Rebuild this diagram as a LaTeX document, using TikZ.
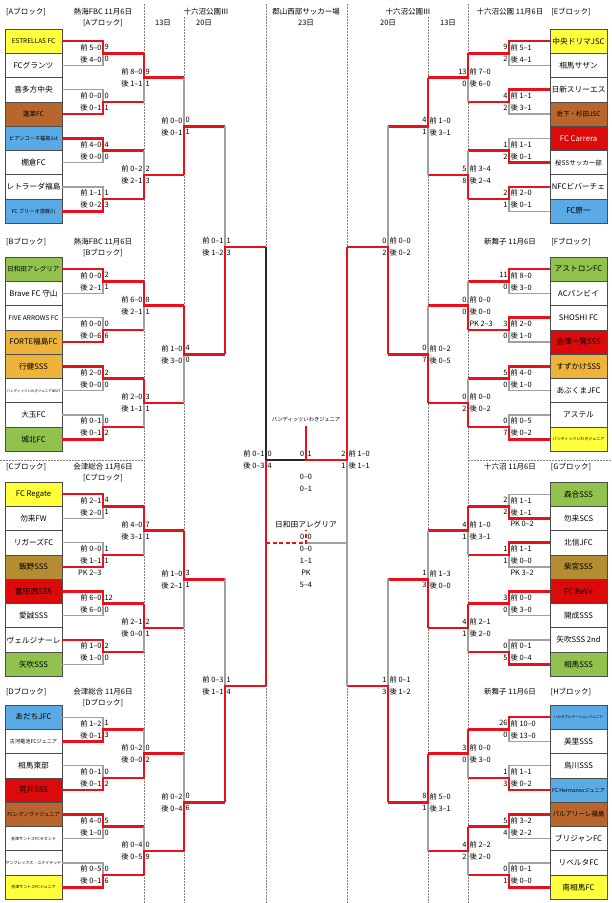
\documentclass[tikz,border=0pt]{standalone}
\usepackage{fontspec}
\setmainfont{Noto Sans CJK JP}
\usepackage{xcolor}
\usetikzlibrary{calc}

\definecolor{cyel}{HTML}{FFFF3C}
\definecolor{cgrn}{HTML}{92C24E}
\definecolor{cbrn}{HTML}{B9662E}
\definecolor{cblu}{HTML}{5AAAE6}
\definecolor{cred}{HTML}{DC0A0A}
\definecolor{cgld}{HTML}{EEB43A}
\definecolor{colv}{HTML}{B48C32}
\definecolor{lred}{HTML}{E8101A}
\definecolor{lgry}{HTML}{A0A0A0}

\tikzset{
  team/.style={draw=black!70, line width=0.8pt, minimum width=57pt, minimum height=24.3pt, inner sep=0pt},
  fbig/.style={font=\fontsize{7.7}{8}\selectfont},
  fmid/.style={font=\fontsize{6.5}{7}\selectfont},
  fsml/.style={font=\fontsize{5.2}{6}\selectfont},
  ftny/.style={font=\fontsize{4}{5}\selectfont},
  fmin/.style={font=\fontsize{3.5}{4}\selectfont},
  fwht/.style={fbig, text=white},
  res/.style={font=\fontsize{7.4}{8}\selectfont, inner sep=0pt},
  hdr/.style={font=\fontsize{7.5}{8}\selectfont, inner sep=0pt},
  bline/.style={lgry, line width=1.3pt},
  wline/.style={lred, line width=2.6pt},
  kline/.style={black!85, line width=1.1pt},
  dline/.style={gray, line width=0.6pt, dash pattern=on 1.5pt off 1.5pt},
}

% one match: name, x, top, bottom, winner, y out, x next
\newcommand{\bmatch}[7]{%
  \coordinate (#1t) at (#2,0 |- #3);
  \coordinate (#1b) at (#2,0 |- #4);
  \coordinate (#1w) at (#2,0 |- #5);
  \coordinate (#1o) at (#2,{#6});
  \coordinate (#1n) at (#7,{#6});
  \draw[bline] (#3) -- (#1t) -- (#1b) -- (#4);
  \draw[wline] (#5) -- (#1w) -- (#1o) -- (#1n);
}
% one block: letter, top, winners of the seven matches
\newcommand{\bracket}[9]{%
  \bmatch{#1m0}{\xa}{#10}{#11}{#1#3}{#2+1*\hh}{\xb}
  \bmatch{#1m1}{\xa}{#12}{#13}{#1#4}{#2+3*\hh}{\xb}
  \bmatch{#1m2}{\xa}{#14}{#15}{#1#5}{#2+5*\hh}{\xb}
  \bmatch{#1m3}{\xa}{#16}{#17}{#1#6}{#2+7*\hh}{\xb}
  \bmatch{#1m4}{\xb}{#1m0n}{#1m1n}{#1m#7n}{#2+2*\hh}{\xc}
  \bmatch{#1m5}{\xb}{#1m2n}{#1m3n}{#1m#8n}{#2+6*\hh}{\xc}
  \bmatch{#1m6}{\xc}{#1m4n}{#1m5n}{#1m#9n}{#2+4*\hh}{\xd}
}
\newcommand{\resl}[5]{%
  \node[res,anchor=east] (#1p) at ([xshift=-1.3pt,yshift=6pt]#1o) {前 #2};
  \node[res,anchor=east] (#1q) at ([xshift=-1.3pt,yshift=-6pt]#1o) {後 #3};
  \node[res,anchor=west] (#1s) at ([xshift=1.3pt,yshift=6pt]#1o) {#4};
  \node[res,anchor=west] (#1u) at ([xshift=1.3pt,yshift=-6pt]#1o) {#5};
}
\newcommand{\resr}[5]{%
  \node[res,anchor=west] (#1p) at ([xshift=1.3pt,yshift=6pt]#1o) {前 #2};
  \node[res,anchor=west] (#1q) at ([xshift=1.3pt,yshift=-6pt]#1o) {後 #3};
  \node[res,anchor=east] (#1s) at ([xshift=-1.3pt,yshift=6pt]#1o) {#4};
  \node[res,anchor=east] (#1u) at ([xshift=-1.3pt,yshift=-6pt]#1o) {#5};
}

\begin{document}
\begin{tikzpicture}[x=1pt,y=-1pt]
\useasboundingbox (0,0) rectangle (612,903);
\fill[white] (0,0) rectangle (612,903);
\foreach \xx/\yy in {144/4,184/17,266/4,347/4,428/17,468/4}
  \draw[dline] (\xx,\yy) -- (\xx,903);
\draw[dline] (0,460) -- (144,460);
\draw[dline] (468,460) -- (612,460);

\node[hdr] (d13l) at (163,23) {13日};
\node[hdr] (v16l) at (206,12) {十六沼公園Ⅲ};
\node[hdr] (d20l) at (204,23) {20日};
\node[hdr] (v23) at (306,12) {郡山西部サッカー場};
\node[hdr] (d23) at (306,23) {23日};
\node[hdr] (v16r) at (408,12) {十六沼公園Ⅲ};
\node[hdr] (d20r) at (388,23) {20日};
\node[hdr] (d13r) at (448,23) {13日};

\foreach \bk/\vn/\y in {A/熱海FBC/12,B/熱海FBC/242,C/会津総合/467,D/会津総合/692}{
  \node[hdr,anchor=west] (h\bk) at (6,\y) {[\bk{}ブロック]};
  \node[hdr] (p\bk) at (103,\y) {\vn{} 11月6日};
  \node[hdr] (q\bk) at (103,\y+11) {[\bk{}ブロック]};
}
\foreach \bk/\vn/\y in {E/十六沼公園/12,F/新舞子/242,G/十六沼/467,H/新舞子/692}{
  \node[hdr] (p\bk) at (510,\y) {\vn{} 11月6日};
  \node[hdr] (q\bk) at (571,\y) {[\bk{}ブロック]};
}

\foreach \i/\c/\s/\t in {0/cyel/fmid/ESTRELLAS FC,1/white/fbig/FCグランツ,2/white/fbig/喜多方中央,3/cbrn/fmid/蓬莱FC,4/cblu/fsml/ビアンコーネ福島1st,5/white/fbig/棚倉FC,6/white/fbig/レトラーダ福島,7/cblu/fsml/FC ブリーオ須賀川}
  \node[team,\s,fill=\c] (A\i) at (33.5,{29+24.3*(\i+0.5)}) {\t};
\foreach \i/\c/\s/\t in {0/cgrn/fmid/日和田アレグリア,1/white/fbig/Brave FC 守山,2/white/fmid/FIVE ARROWS FC,3/cgld/fbig/FORTE福島FC,4/cgld/fbig/行健SSS,5/white/fmin/バンディッツいわきジュニアNEXT,6/white/fbig/大玉FC,7/cgrn/fbig/城北FC}
  \node[team,\s,fill=\c] (B\i) at (33.5,{257+24.3*(\i+0.5)}) {\t};
\foreach \i/\c/\s/\t in {0/cyel/fbig/FC Regate,1/white/fbig/勿来FW,2/white/fbig/リガーズFC,3/colv/fbig/飯野SSS,4/cred/fbig/富田西SSS,5/white/fbig/愛誠SSS,6/white/fbig/ヴェルジナーレ,7/cgrn/fbig/矢吹SSS}
  \node[team,\s,fill=\c] (C\i) at (33.5,{482+24.3*(\i+0.5)}) {\t};
\foreach \i/\c/\s/\t in {0/cblu/fbig/あだちJFC,1/white/fsml/古河電池FCジュニア,2/white/fbig/相馬東部,3/cred/fbig/荒井SSS,4/cbrn/fsml/FCレグノヴァジュニア,5/white/ftny/会津サントスFCセカンド,6/white/ftny/サンフレックス・ユナイテッド,7/cyel/ftny/会津サントスFCジュニア}
  \node[team,\s,fill=\c] (D\i) at (33.5,{705+24.3*(\i+0.5)}) {\t};
\foreach \i/\c/\s/\t in {0/cyel/fbig/中央ドリマJSC,1/white/fbig/相馬サザン,2/white/fbig/日新スリーエス,3/cbrn/fmid/岳下・杉田JSC,4/cred/fwht/FC Carrera,5/white/fmid/桜SSサッカー部,6/white/fbig/NFCビバーチェ,7/cblu/fbig/FC原一}
  \node[team,\s,fill=\c] (E\i) at (578.5,{29+24.3*(\i+0.5)}) {\t};
\foreach \i/\c/\s/\t in {0/cgrn/fbig/アストロンFC,1/white/fbig/ACパンビイ,2/white/fbig/SHOSHI FC,3/cred/fbig/会津一箕SSS,4/cgld/fbig/すずかけSSS,5/white/fbig/あぶくまJFC,6/white/fbig/アステル,7/cyel/ftny/バンディッツいわきジュニア}
  \node[team,\s,fill=\c] (F\i) at (578.5,{257+24.3*(\i+0.5)}) {\t};
\foreach \i/\c/\s/\t in {0/cgrn/fbig/森合SSS,1/white/fbig/勿来SCS,2/white/fbig/北信JFC,3/colv/fbig/柴宮SSS,4/cred/fbig/FC BeVe,5/white/fbig/開成SSS,6/white/fbig/矢吹SSS 2nd,7/cgrn/fbig/相馬SSS}
  \node[team,\s,fill=\c] (G\i) at (578.5,{482+24.3*(\i+0.5)}) {\t};
\foreach \i/\c/\s/\t in {0/cblu/fmin/いわきアピラーションジュニア,1/white/fbig/美里SSS,2/white/fbig/鳥川SSS,3/cblu/fsml/FC Hermanosジュニア,4/cbrn/fmid/パルアリーレ福島,5/white/fbig/ブリジャンFC,6/white/fbig/リベルタFC,7/cyel/fbig/南相馬FC}
  \node[team,\s,fill=\c] (H\i) at (578.5,{705+24.3*(\i+0.5)}) {\t};

\def\hh{24.3}
\def\xa{103}\def\xb{144}\def\xc{184}\def\xd{225}
\bracket{A}{29}{0}{3}{4}{7}{0}{3}{5}
\bracket{B}{257}{0}{3}{4}{7}{0}{2}{4}
\bracket{C}{482}{0}{3}{4}{6}{0}{2}{4}
\bracket{D}{705}{1}{3}{4}{7}{1}{3}{5}
\def\xa{509}\def\xb{468}\def\xc{428}\def\xd{388}
\bracket{E}{29}{0}{2}{5}{6}{0}{3}{4}
\bracket{F}{257}{0}{2}{4}{7}{1}{3}{5}
\bracket{G}{482}{1}{2}{4}{7}{0}{2}{5}
\bracket{H}{705}{0}{3}{4}{7}{0}{2}{4}

\bmatch{Lq1}{225}{Am6n}{Bm6n}{Bm6n}{247}{266}
\bmatch{Lq2}{225}{Cm6n}{Dm6n}{Dm6n}{686}{266}
\bmatch{Rq1}{388}{Em6n}{Fm6n}{Fm6n}{247}{347}
\bmatch{Rq2}{388}{Gm6n}{Hm6n}{Hm6n}{686}{347}

\coordinate (Lso) at (266,460);
\coordinate (Rso) at (347,460);
\coordinate (fin) at (306,460);
\coordinate (chp) at (306,426);
\node[font=\fontsize{5.3}{6}\selectfont, inner sep=0pt] (champ) at (306,419) {バンディッツいわきジュニア};
\draw[kline] (Lq1n) -- (Lso) -- (fin);
\draw[bline] (Rq2n) -- (Rso);
\draw[wline] (Lq2n) -- (Lso);
\draw[wline] (Rq1n) -- (Rso) -- (fin) -- (chp);

\coordinate (thl) at (266,543);
\coordinate (thm) at (306,543);
\coordinate (thr) at (347,543);
\coordinate (thu) at (306,530);
\node[fbig, inner sep=0pt] (third) at (306,525) {日和田アレグリア};
\draw[bline] (thm) -- (thr);
\draw[lred, line width=1.6pt, dash pattern=on 4pt off 2.5pt] (thl) -- (thm) -- (thu);

\node[res,anchor=east] (fl) at (304.5,454) {0};
\node[res,anchor=west] (fr) at (307.5,454) {1};
\node[res] (f1) at (306,477) {0–0};
\node[res] (f2) at (306,489) {0–1};
\node[res,anchor=east] (tl) at (304.5,537) {0};
\node[res,anchor=west] (tr) at (307.5,537) {0};
\node[res] (t1) at (306,549) {0–0};
\node[res] (t2) at (306,561) {1–1};
\node[res] (t3) at (306,573) {PK};
\node[res] (t4) at (306,585) {5–4};

\resl{Lq1}{0–1}{1–2}{1}{3}
\resl{Lq2}{0–3}{1–1}{1}{4}
\resl{Ls}{0–1}{0–3}{0}{4}
\resr{Rq1}{0–0}{0–2}{0}{2}
\resr{Rq2}{0–1}{1–2}{1}{3}
\resr{Rs}{1–0}{1–1}{2}{1}

\resl{Am0}{5–0}{4–0}{9}{0}
\resl{Am1}{0–0}{0–1}{0}{1}
\resl{Am2}{4–0}{0–0}{4}{0}
\resl{Am3}{1–1}{0–2}{1}{3}
\resl{Am4}{8–0}{1–1}{9}{1}
\resl{Am5}{0–2}{2–1}{2}{3}
\resl{Am6}{0–0}{0–1}{0}{1}
\resl{Bm0}{0–0}{2–1}{2}{1}
\resl{Bm1}{0–0}{0–6}{0}{6}
\resl{Bm2}{2–0}{0–0}{2}{0}
\resl{Bm3}{0–1}{0–1}{0}{2}
\resl{Bm4}{6–0}{2–1}{8}{1}
\resl{Bm5}{2–0}{1–1}{3}{1}
\resl{Bm6}{1–0}{3–0}{4}{0}
\resl{Cm0}{2–1}{2–0}{4}{1}
\resl{Cm1}{0–0}{1–1}{1}{1}
\resl{Cm2}{6–0}{6–0}{12}{0}
\resl{Cm3}{1–0}{1–0}{2}{0}
\resl{Cm4}{4–0}{3–1}{7}{1}
\resl{Cm5}{2–1}{0–0}{2}{1}
\resl{Cm6}{1–0}{2–1}{3}{1}
\resl{Dm0}{1–2}{0–1}{1}{3}
\resl{Dm1}{0–1}{0–1}{0}{2}
\resl{Dm2}{4–0}{1–0}{5}{0}
\resl{Dm3}{0–5}{0–1}{0}{6}
\resl{Dm4}{0–2}{0–0}{0}{2}
\resl{Dm5}{0–4}{0–5}{0}{9}
\resl{Dm6}{0–2}{0–4}{0}{6}
\resr{Em0}{5–1}{4–1}{9}{2}
\resr{Em1}{1–1}{3–1}{4}{2}
\resr{Em2}{1–1}{0–1}{1}{2}
\resr{Em3}{2–0}{0–1}{2}{1}
\resr{Em4}{7–0}{6–0}{13}{0}
\resr{Em5}{3–4}{2–4}{5}{8}
\resr{Em6}{1–0}{3–1}{4}{1}
\resr{Fm0}{8–0}{3–0}{11}{0}
\resr{Fm1}{2–0}{1–0}{3}{0}
\resr{Fm2}{4–0}{1–0}{5}{0}
\resr{Fm3}{0–5}{0–2}{0}{7}
\resr{Fm4}{0–0}{0–0}{0}{0}
\resr{Fm5}{0–0}{0–2}{0}{2}
\resr{Fm6}{0–2}{0–5}{0}{7}
\resr{Gm0}{1–1}{1–1}{2}{2}
\resr{Gm1}{1–1}{0–0}{1}{1}
\resr{Gm2}{0–0}{3–0}{3}{0}
\resr{Gm3}{0–1}{0–4}{0}{5}
\resr{Gm4}{1–0}{3–1}{4}{1}
\resr{Gm5}{2–1}{2–0}{4}{1}
\resr{Gm6}{1–3}{0–0}{1}{3}
\resr{Hm0}{10–0}{13–0}{26}{0}
\resr{Hm1}{1–1}{0–2}{1}{3}
\resr{Hm2}{3–2}{2–2}{5}{4}
\resr{Hm3}{0–1}{0–0}{0}{1}
\resr{Hm4}{0–0}{3–0}{3}{0}
\resr{Hm5}{2–2}{2–0}{4}{2}
\resr{Hm6}{5–0}{3–1}{8}{1}

\node[res,anchor=east] (Cm1k) at ([xshift=-1.3pt,yshift=-18pt]Cm1o) {PK 2–3};
\node[res,anchor=west] (Fm4k) at ([xshift=1.3pt,yshift=-18pt]Fm4o) {PK 2–3};
\node[res,anchor=west] (Gm0k) at ([xshift=1.3pt,yshift=-18pt]Gm0o) {PK 0–2};
\node[res,anchor=west] (Gm1k) at ([xshift=1.3pt,yshift=-18pt]Gm1o) {PK 3–2};
\end{tikzpicture}
\end{document}
